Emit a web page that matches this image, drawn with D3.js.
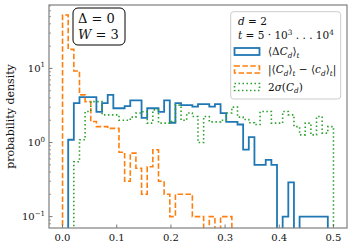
<!DOCTYPE html>
<html><head><meta charset="utf-8">
<script src="https://cdn.jsdelivr.net/npm/d3@7"></script>
<style>body{margin:0;background:#fff}</style>
</head><body><svg id="c" width="353" height="249" font-family="'DejaVu Serif',serif"></svg>
<script>
// ---- data ----
const binCount = 48;
const binRange = [0, 0.5];
// <ΔC_d>_t
const meanDelta = [0, 1.09, 3.4, 4.1, 4.1, 4.1, 2.6, 3.4, 4.4, 2.9, 2.9, 3.1, 3.7, 3.7, 2.15, 2.9,
  2.9, 2.6, 3.7, 1.85, 3.4, 3.2, 3.2, 3.05, 3.3, 3.3, 3.05, 3.3, 2.5, 1.9, 1.9, 1.75,
  0.8, 1.18, 0.5, 0.5, 0.585, 0.5, 0, 0.1, 0.29, 0, 0.1, 0.1, 0.1, 0.1, 0.1, 0];
// |<C_d>_t - <c_d>_t|
const absDiff = [52.7, 18.1, 9.25, 4.4, 3.57, 1.92, 1.64, 1.64, 1.55, 1.55, 0.74, 0.3, 0.72, 0.45, 0.2, 0.47,
  0.8, 0.3, 0.2, 0.1, 0.2, 0.2, 0.2, 0.1, 0.1, 0, 0.1, 0, 0.1, 0.1, 0, 0,
  0, 0, 0, 0, 0, 0, 0, 0, 0, 0, 0, 0, 0, 0, 0, 0];
// 2σ(C_d)
const twoSigma = [0, 0, 0.55, 1.09, 2.62, 3.57, 3.57, 2.36, 2.36, 2.36, 2.0, 2.0, 2.2, 2.5, 2.6, 1.83,
  2.76, 1.83, 1.83, 1.92, 3.2, 2.0, 2.5, 2.24, 1.0, 2.24, 1.9, 1.9, 2.0, 2.5, 3.0, 2.2,
  2.05, 1.85, 1.75, 2.62, 2.62, 1.83, 1.83, 2.62, 2.36, 1.64, 1.27, 1.83, 1.27, 2.24, 1.34, 1.64];
const xTicks = [0, 0.1, 0.2, 0.3, 0.4, 0.5];
const yTickExps = [-1, 0, 1];
const seriesColors = ["#1f77b4", "#ff7f0e", "#2ca02c"];

// ---- layout ----
const svg = d3.select("#c");
const L = 49, R = 347, T = 5, B = 228;
const x = d3.scaleLinear().domain([-0.025, 0.525]).range([L, R]);
const y = d3.scaleLog().domain([0.0702, 71.8]).range([B, T]).clamp(false);

svg.append("defs").append("clipPath").attr("id", "clip")
  .append("rect").attr("x", L).attr("y", T).attr("width", R - L).attr("height", B - T);

const binW = (binRange[1] - binRange[0]) / binCount;
const edges = d3.range(binCount + 1).map(i => binRange[0] + i * binW);
const FLOOR = 1e-4;
function stepPath(vals) {
  const pts = [[edges[0], FLOOR]];
  vals.forEach((v, i) => {
    const vv = v > 0 ? v : FLOOR;
    pts.push([edges[i], vv]);
    pts.push([edges[i + 1], vv]);
  });
  pts.push([edges[binCount], FLOOR]);
  return d3.line().x(d => x(d[0])).y(d => y(d[1]))(pts);
}

const plot = svg.append("g").attr("clip-path", "url(#clip)");
const styles = [
  {dash: null, w: 1.8},
  {dash: "5.5,2.4", w: 1.6},
  {dash: "1.5,2.5", w: 1.6}
];
[meanDelta, absDiff, twoSigma].forEach((vals, i) => {
  plot.append("path").attr("d", stepPath(vals)).attr("fill", "none")
    .attr("stroke", seriesColors[i]).attr("stroke-width", styles[i].w)
    .attr("stroke-dasharray", styles[i].dash).attr("stroke-linejoin", "miter");
});

// ---- axes ----
const axisCol = "#7f7f7f";
const tickCol = "#555";
const txtCol = "#111";
xTicks.forEach(t => {
  svg.append("line").attr("x1", x(t)).attr("x2", x(t)).attr("y1", B).attr("y2", B - 3.5)
    .attr("stroke", tickCol).attr("stroke-width", 0.8);
  svg.append("text").attr("x", x(t)).attr("y", 241).attr("text-anchor", "middle").attr("fill", txtCol)
    .attr("font-size", 10).text(d3.format(".1f")(t));
});
yTickExps.forEach(e => {
  const v = Math.pow(10, e);
  svg.append("line").attr("x1", L).attr("x2", L + 3.5).attr("y1", y(v)).attr("y2", y(v))
    .attr("stroke", tickCol).attr("stroke-width", 0.8);
  const t = svg.append("text").attr("x", 45).attr("y", y(v) + 3.5).attr("text-anchor", "end")
    .attr("font-size", 10).attr("fill", txtCol);
  t.append("tspan").text("10");
  t.append("tspan").text(e < 0 ? "\u2212" + (-e) : String(e)).attr("font-size", 7).attr("dy", -4.5);
});
[-2, -1, 0, 1].forEach(e => {
  for (let m = 2; m <= 9; m++) {
    const v = m * Math.pow(10, e);
    if (v < y.domain()[0] || v > y.domain()[1]) continue;
    svg.append("line").attr("x1", L).attr("x2", L + 2).attr("y1", y(v)).attr("y2", y(v))
      .attr("stroke", tickCol).attr("stroke-width", 0.6);
  }
});
svg.append("rect").attr("x", L).attr("y", T).attr("width", R - L).attr("height", B - T)
  .attr("fill", "none").attr("stroke", axisCol).attr("stroke-width", 1.2);

svg.append("text").attr("transform", `translate(14,${(T + B) / 2}) rotate(-90)`).attr("fill", txtCol)
  .attr("text-anchor", "middle").attr("font-size", 11).text("probability density");

// ---- math text helper ----
function mathText(g, x0, y0, parts, size) {
  const t = g.append("text").attr("x", x0).attr("y", y0).attr("font-size", size).attr("fill", txtCol);
  let cur = 0;
  parts.forEach(p => {
    const off = p.s === "sub" ? size * 0.25 : p.s === "sup" ? -size * 0.35 : 0;
    const ts = t.append("tspan").text(p.t).attr("dy", off - cur);
    if (p.s) ts.attr("font-size", size * 0.7);
    if (p.i) ts.attr("font-style", "italic");
    cur = off;
  });
  return t;
}

// ---- parameter box ----
svg.append("rect").attr("x", 73).attr("y", 8).attr("width", 52).attr("height", 37).attr("rx", 5)
  .attr("fill", "#fff").attr("stroke", "#000").attr("stroke-width", 1);
mathText(svg, 78, 23, [{t: "\u0394 = 0"}], 13);
mathText(svg, 78, 38.5, [{t: "W", i: 1}, {t: " = 3"}], 13);

// ---- legend ----
const lg = svg.append("g");
lg.append("rect").attr("x", 230.7).attr("y", 11.7).attr("width", 110).attr("height", 87.3).attr("rx", 3)
  .attr("fill", "#fff").attr("fill-opacity", 0.8).attr("stroke", "#ccc").attr("stroke-width", 1);
const fs = 10.5;
mathText(lg, 238, 25, [{t: "d", i: 1}, {t: " = 2"}], fs);
mathText(lg, 238, 39, [{t: "t", i: 1}, {t: " = 5 \u00b7 10"}, {t: "3", s: "sup"}, {t: " . . . 10"}, {t: "4", s: "sup"}], fs);
const legendLabels = [
  [{t: "\u27e8\u0394"}, {t: "C", i: 1}, {t: "d", i: 1, s: "sub"}, {t: "\u27e9"}, {t: "t", i: 1, s: "sub"}],
  [{t: "|\u27e8"}, {t: "C", i: 1}, {t: "d", i: 1, s: "sub"}, {t: "\u27e9"}, {t: "t", i: 1, s: "sub"},
   {t: " \u2212 \u27e8"}, {t: "c", i: 1}, {t: "d", i: 1, s: "sub"}, {t: "\u27e9"}, {t: "t", i: 1, s: "sub"}, {t: "|"}],
  [{t: "2"}, {t: "\u03c3", i: 1}, {t: "("}, {t: "C", i: 1}, {t: "d", i: 1, s: "sub"}, {t: ")"}]
];
const rowY = [51.5, 69.5, 87];
legendLabels.forEach((parts, i) => {
  lg.append("rect").attr("x", 234.5).attr("y", rowY[i] - 3.5).attr("width", 25).attr("height", 7)
    .attr("fill", "none").attr("stroke", seriesColors[i]).attr("stroke-width", styles[i].w)
    .attr("stroke-dasharray", styles[i].dash);
  mathText(lg, 268, rowY[i] + 3.5, parts, fs);
});
</script></body></html>
